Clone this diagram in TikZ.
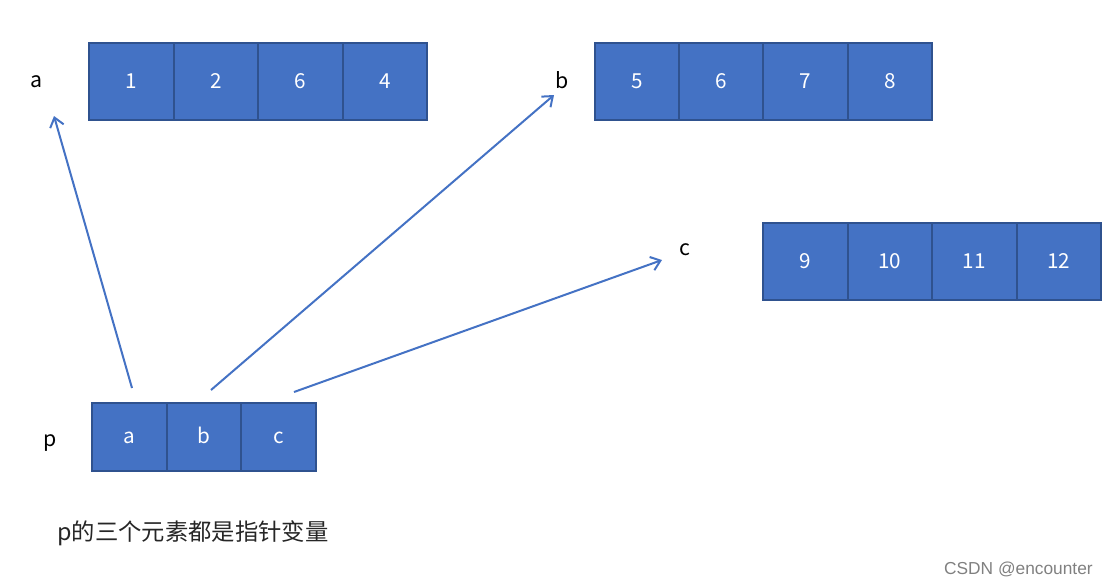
\documentclass[tikz,border=0pt]{standalone}
\usepackage{fontspec}
\setmainfont{Noto Sans CJK SC}
\newfontfamily\wmfont{Liberation Sans}
\usetikzlibrary{arrows.meta}
\newlength{\du}
\setlength{\du}{0.75pt}
\definecolor{cellfill}{rgb}{0.267, 0.447, 0.769}
\definecolor{cellline}{rgb}{0.184, 0.322, 0.561}
\definecolor{ptrline}{rgb}{0.267, 0.447, 0.769}
\tikzset{
  bigcell/.style={draw=cellline, fill=cellfill, line width=2\du, minimum width=84.5\du, minimum height=77\du, inner sep=0pt, text height=11pt, text depth=1pt, text=white, font=\fontsize{15.5pt}{18pt}\selectfont},
  ptrcell/.style={bigcell, minimum width=74.7\du, minimum height=68\du},
  varname/.style={inner sep=0pt, text=black, font=\fontsize{16pt}{19pt}\selectfont},
  pointer/.style={draw=ptrline, line width=2\du, -{Straight Barb[length=6.75pt, width=10.5pt, line width=1.5pt]}},
}

\begin{document}
\begin{tikzpicture}
\pgftransformxscale{1.000000}
\pgftransformyscale{-1.000000}
\useasboundingbox (0\du,0\du) rectangle (1120\du,587\du);
% array a
\node[bigcell] (a1) at (131.25\du,81.5\du) {1};
\node[bigcell] (a2) at (215.75\du,81.5\du) {2};
\node[bigcell] (a3) at (300.25\du,81.5\du) {6};
\node[bigcell] (a4) at (384.75\du,81.5\du) {4};
\node[varname] (aname) at (37\du,82\du) {a};
% array b
\node[bigcell] (b1) at (637.1\du,81.5\du) {5};
\node[bigcell] (b2) at (721.4\du,81.5\du) {6};
\node[bigcell] (b3) at (805.6\du,81.5\du) {7};
\node[bigcell] (b4) at (889.9\du,81.5\du) {8};
\node[varname] (bname) at (562\du,80\du) {b};
% array c
\node[bigcell] (c1) at (805.25\du,261.5\du) {9};
\node[bigcell] (c2) at (889.75\du,261.5\du) {10};
\node[bigcell] (c3) at (974.25\du,261.5\du) {11};
\node[bigcell] (c4) at (1058.75\du,261.5\du) {12};
\node[varname] (cname) at (685\du,250\du) {c};
% pointer array p
\node[ptrcell] (pa) at (129.3\du,437\du) {a};
\node[ptrcell] (pb) at (204\du,437\du) {b};
\node[ptrcell] (pc) at (278.7\du,437\du) {c};
\node[varname] (pname) at (50\du,443\du) {p};
% arrows
\coordinate (pa-tail) at (132\du,388\du);
\coordinate (pb-tail) at (211\du,390\du);
\coordinate (pc-tail) at (294\du,392\du);
\coordinate (a-tip) at (54\du,116\du);
\coordinate (b-tip) at (554\du,95\du);
\coordinate (c-tip) at (662\du,260\du);
\draw[pointer] (pa-tail)--(a-tip);
\draw[pointer] (pb-tail)--(b-tip);
\draw[pointer] (pc-tail)--(c-tip);
% caption
\node[anchor=west, inner sep=0pt, text=black!85, font=\fontsize{17.5pt}{21pt}\selectfont] (note) at (57\du,533\du) {p的三个元素都是指针变量};
\node[anchor=east, inner sep=0pt, text=black!50, font=\wmfont\fontsize{13pt}{15pt}\selectfont] (mark) at (1093\du,569\du) {CSDN @encounter};
\end{tikzpicture}
\end{document}
